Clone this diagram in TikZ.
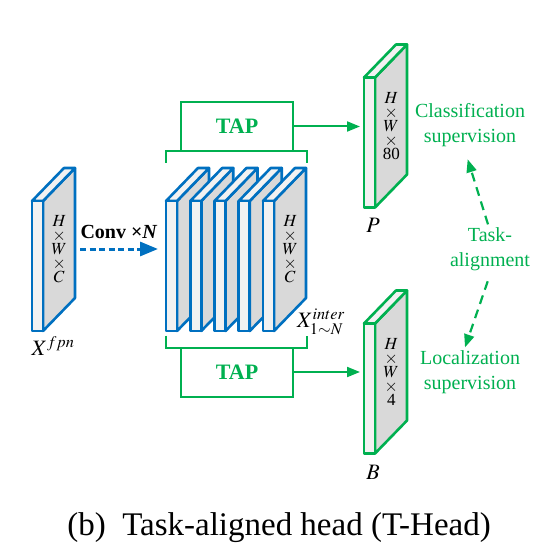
\documentclass[tikz,border=0pt]{standalone}
\usepackage{mathptmx}
\usepackage[no-math]{fontspec}
\setmainfont{Liberation Serif}
\usetikzlibrary{arrows.meta,calc,positioning}
\definecolor{hblue}{RGB}{0,112,192}
\definecolor{hgreen}{RGB}{0,176,80}
\definecolor{frontgray}{RGB}{242,242,242}
\definecolor{sidegray}{RGB}{217,217,217}
\tikzset{
    face/.style = {draw=#1, line width=2.6pt, line join=round},
    front/.style = {face=#1, fill=frontgray, rectangle, inner sep=0pt,
        outer sep=0pt, minimum width=11pt, minimum height=130pt},
    dims/.style = {font=\fontsize{17}{14}\selectfont, align=center, inner sep=0pt},
    tap/.style = {draw=hgreen, line width=2pt, rectangle, outer sep=0pt,
        minimum width=112pt, minimum height=49pt, text=hgreen,
        font=\fontsize{22}{24}\selectfont\bfseries},
    bracket/.style = {draw=hgreen, line width=2pt},
    arrow/.style = {draw=hgreen, line width=2pt, -{Triangle[length=13pt,width=10pt]}},
    sup/.style = {text=hgreen, font=\fontsize{20}{25}\selectfont, align=center},
    align arrow/.style = {draw=hgreen, line width=2.2pt, dash pattern=on 9pt off 6pt,
        -{Triangle[length=13pt,width=10pt]}},
    symb/.style = {font=\fontsize{22}{24}\selectfont, inner sep=0pt}
}
% one slab: name, colour, centre of the front face
\newcommand{\slab}[3]{%
    \coordinate (#1-c) at #3;
    \filldraw[face=#2, fill=sidegray] ($(#1-c)+(5.5,-65)$) -- ++(32,-33) -- ++(0,130) -- ++(-32,33) -- cycle;
    \filldraw[face=#2, fill=frontgray] ($(#1-c)+(-5.5,-65)$) -- ++(32,-33) -- ++(11,0) -- ++(-32,33) -- cycle;
    \node[front=#2] (#1) at (#1-c) {};
}
\begin{document}
\begin{tikzpicture}[x=1pt, y=-1pt]
    \useasboundingbox (0,0) rectangle (548,553);
    % input feature
    \slab{fpn}{hblue}{(37.5,266)}
    \node[dims] (fpnd) at ($(fpn-c)+(21.75,-16.5)$) {$H$\\$\times$\\$W$\\$\times$\\$C$};
    \node[symb] (fpnl) at (53,346) {$X^{fpn}$};
    % conv layers
    \node[font=\fontsize{20}{22}\selectfont\bfseries, inner sep=0pt] (conv) at (119,232) {Conv ×\textit{N}};
    \coordinate (conva) at (80,249);
    \coordinate (convb) at (158,249);
    \draw[hblue, line width=3pt, dash pattern=on 6pt off 3.5pt, -{Triangle[length=18pt,width=14pt]}] (conva) -- (convb);
    % intermediate features
    \foreach \i in {0,...,4}
        \slab{s\i}{hblue}{(171.5+24.25*\i,266)};
    \node[dims] (interd) at ($(s4-c)+(21.75,-16.5)$) {$H$\\$\times$\\$W$\\$\times$\\$C$};
    \node[symb] (interl) at (321,322) {$X_{1\sim N}^{inter}$};
    \coordinate (stacke) at (306.5,266);
    % TAP branches
    \node[tap] (tapc) at (237,126.5) {TAP};
    \node[tap] (tapb) at (237,372) {TAP};
    \draw[bracket] (tapc.south -| s0.west) ++(0,12) -- ++(0,-12) -- (tapc.south -| stacke) -- ++(0,12);
    \draw[bracket] (tapb.north -| s0.west) ++(0,-12) -- ++(0,12) -- (tapb.north -| stacke) -- ++(0,-12);
    % heads
    \slab{P}{hgreen}{(369.5,142.5)}
    \node[dims] (Pd) at ($(P-c)+(21.75,-16.5)$) {$H$\\$\times$\\$W$\\$\times$\\80};
    \node[symb] (Pl) at (373,225) {$P$};
    \slab{B}{hgreen}{(369.5,388.5)}
    \node[dims] (Bd) at ($(B-c)+(21.75,-16.5)$) {$H$\\$\times$\\$W$\\$\times$\\4};
    \node[symb] (Bl) at (373,472) {$B$};
    \draw[arrow, shorten >=4pt] (tapc.east) -- (tapc.east -| P.west);
    \draw[arrow, shorten >=4pt] (tapb.east) -- (tapb.east -| B.west);
    % supervision
    \node[sup] (cls) at (470,125.5) {Classification\\supervision};
    \node[sup] (loc) at (470,372.5) {Localization\\supervision};
    \node[sup] (task) at (490,249.5) {Task-\\alignment};
    \draw[align arrow, shorten >=9pt] ([xshift=-2pt]task.north) -- ([xshift=-5pt]cls.south);
    \draw[align arrow, shorten <=7pt] ([xshift=0pt]task.south) -- ([xshift=-5pt]loc.north);
    % caption
    \node[font=\fontsize{33}{36}\selectfont, anchor=base] (cap) at (279,535) {(b)\enspace Task-aligned head (T-Head)};
\end{tikzpicture}
\end{document}
